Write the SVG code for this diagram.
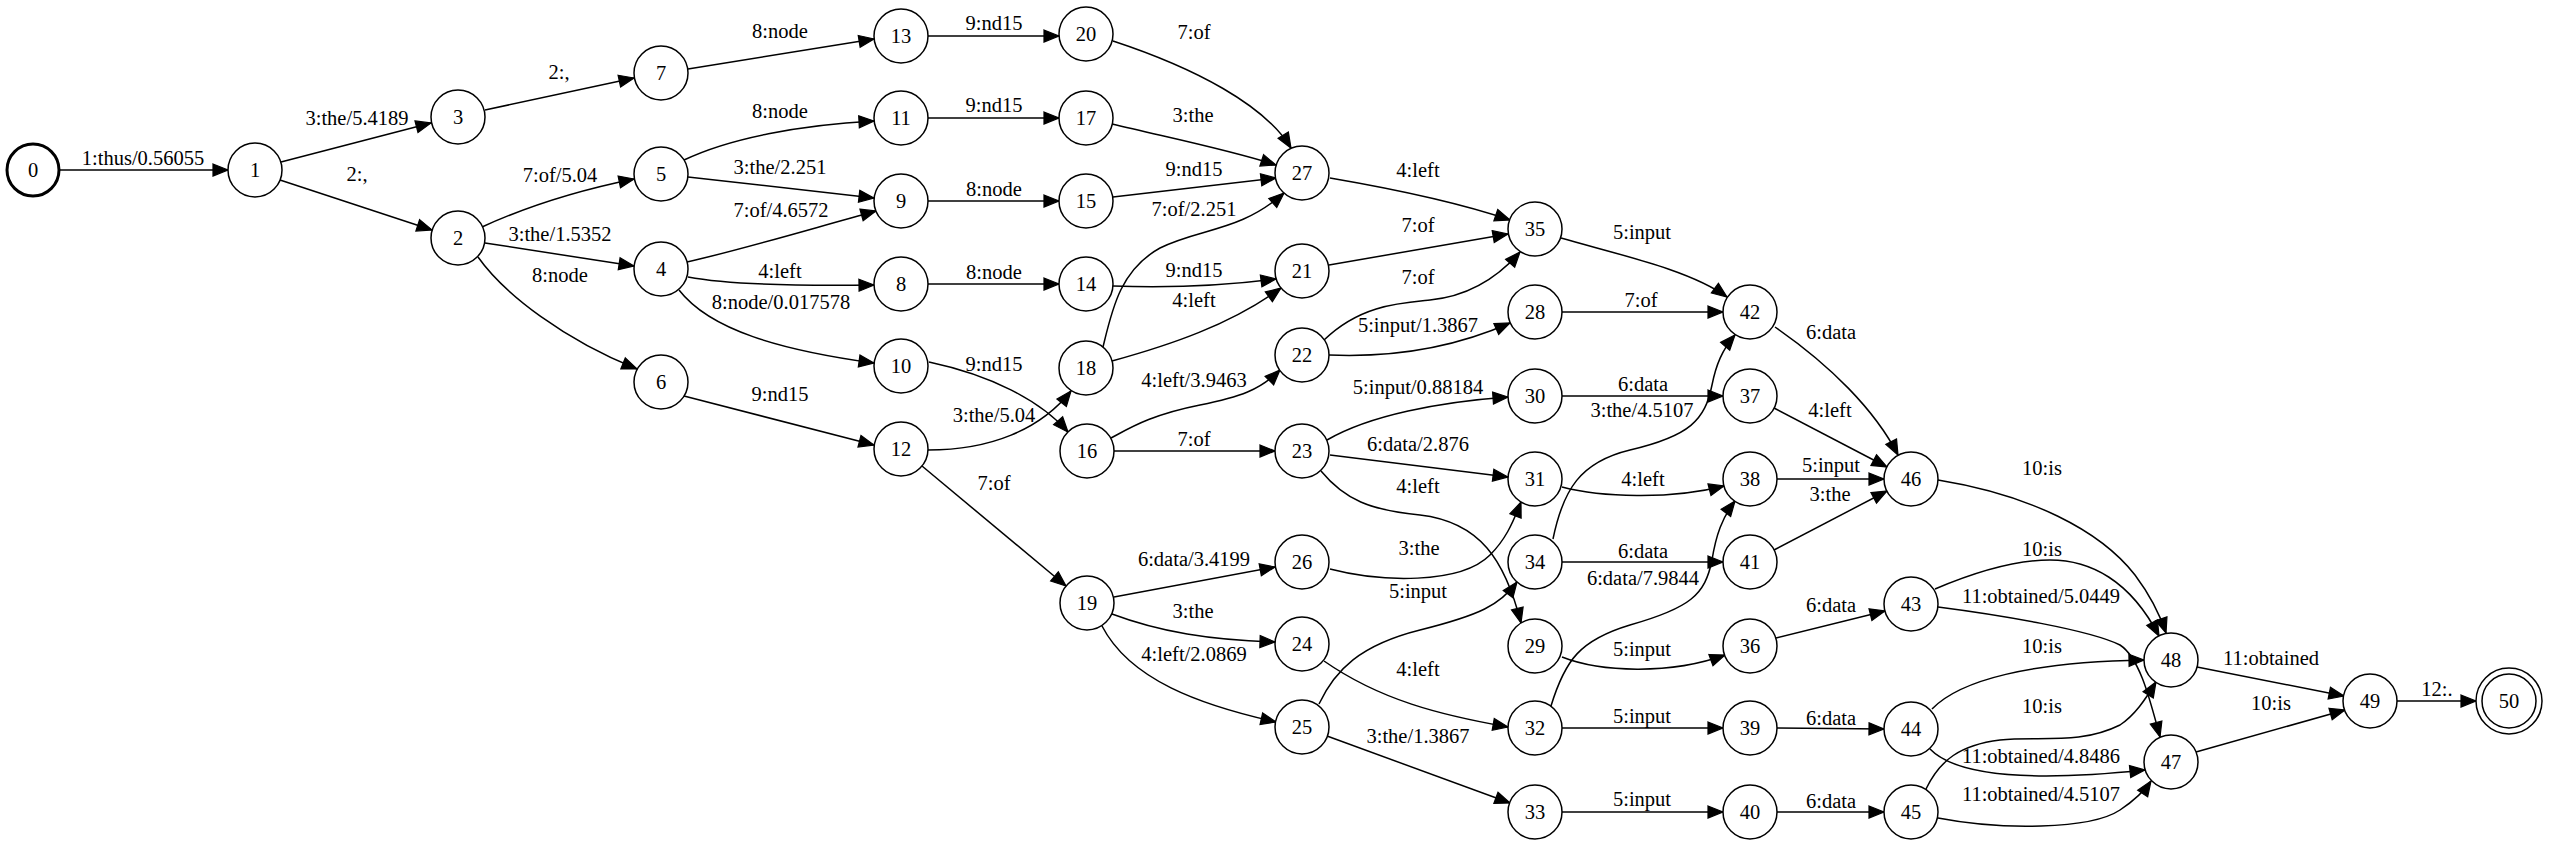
<svg xmlns="http://www.w3.org/2000/svg" width="2550" height="847" viewBox="0 0 2550 847">
<defs>
<marker id="ah" markerUnits="userSpaceOnUse" markerWidth="18" markerHeight="14" refX="15" refY="6" orient="auto" overflow="visible">
<path d="M0,0 L15,6 L0,12 z" fill="#000" stroke="#000" stroke-width="1.2" stroke-linejoin="miter"/>
</marker>
</defs>
<style>
.n circle{fill:#fff;stroke:#000;stroke-width:1.5}
.n text{font-family:"Liberation Serif","Times New Roman",serif;font-size:20.5px;text-anchor:middle;fill:#000}
#edges path{fill:none;stroke:#000;stroke-width:1.5;marker-end:url(#ah)}
#edges text{font-family:"Liberation Serif","Times New Roman",serif;font-size:20.5px;text-anchor:middle;fill:#000}
</style>
<rect width="2550" height="847" fill="#fff"/>
<g id="edges">
<g><path d="M59,170 L228,170"/><text x="143" y="165">1:thus/0.56055</text></g>
<g><path d="M281,162 L431,123"/><text x="357" y="125">3:the/5.4189</text></g>
<g><path d="M280,180 L432,230"/><text x="357" y="181">2:,</text></g>
<g><path d="M485,110 L634,78"/><text x="559" y="79">2:,</text></g>
<g><path d="M482,227 C530,205 580,190 634,179"/><text x="560" y="182">7:of/5.04</text></g>
<g><path d="M485,243 L634,266"/><text x="560" y="241">3:the/1.5352</text></g>
<g><path d="M478,257 C505,295 565,340 637,369"/><text x="560" y="282">8:node</text></g>
<g><path d="M688,69 L874,39"/><text x="780" y="38">8:node</text></g>
<g><path d="M928,36 L1059,36"/><text x="994" y="30">9:nd15</text></g>
<g><path d="M1113,41 C1195,68 1265,105 1291,148"/><text x="1194" y="39">7:of</text></g>
<g><path d="M684,160 C730,138 800,125 874,121"/><text x="780" y="118">8:node</text></g>
<g><path d="M928,118 L1059,118"/><text x="994" y="112">9:nd15</text></g>
<g><path d="M1112,124 C1170,138 1230,150 1276,165"/><text x="1193" y="122">3:the</text></g>
<g><path d="M688,177 L874,198"/><text x="780" y="174">3:the/2.251</text></g>
<g><path d="M687,262 C740,250 800,232 876,211"/><text x="781" y="217">7:of/4.6572</text></g>
<g><path d="M928,201 L1059,201"/><text x="994" y="196">8:node</text></g>
<g><path d="M1113,197 L1276,178"/><text x="1194" y="176">9:nd15</text></g>
<g><path d="M1103,347 C1112,310 1120,270 1160,248 C1200,228 1240,232 1284,193"/><text x="1194" y="216">7:of/2.251</text></g>
<g><path d="M688,277 C730,285 800,286 874,285"/><text x="780" y="278">4:left</text></g>
<g><path d="M928,284 L1059,284"/><text x="994" y="279">8:node</text></g>
<g><path d="M1113,286 C1170,288 1230,285 1276,279"/><text x="1194" y="277">9:nd15</text></g>
<g><path d="M1112,361 C1170,345 1230,325 1281,288"/><text x="1194" y="307">4:left</text></g>
<g><path d="M679,290 C710,330 780,350 874,363"/><text x="781" y="309">8:node/0.017578</text></g>
<g><path d="M929,362 C990,375 1040,400 1068,432"/><text x="994" y="371">9:nd15</text></g>
<g><path d="M684,396 L874,445"/><text x="780" y="401">9:nd15</text></g>
<g><path d="M928,450 C990,450 1040,430 1071,391"/><text x="994" y="422">3:the/5.04</text></g>
<g><path d="M1111,438 C1130,428 1150,415 1200,405 C1240,397 1260,390 1280,370"/><text x="1194" y="387">4:left/3.9463</text></g>
<g><path d="M1114,451 L1275,451"/><text x="1194" y="446">7:of</text></g>
<g><path d="M922,466 L1066,586"/><text x="994" y="490">7:of</text></g>
<g><path d="M1114,597 L1275,567"/><text x="1194" y="566">6:data/3.4199</text></g>
<g><path d="M1112,614 C1160,632 1210,640 1275,642"/><text x="1193" y="618">3:the</text></g>
<g><path d="M1102,626 C1130,680 1200,705 1276,722"/><text x="1194" y="661">4:left/2.0869</text></g>
<g><path d="M1330,178 C1400,190 1460,203 1510,220"/><text x="1418" y="177">4:left</text></g>
<g><path d="M1329,265 L1508,234"/><text x="1418" y="232">7:of</text></g>
<g><path d="M1324,340 C1360,305 1400,303 1430,300 C1470,296 1500,275 1520,252"/><text x="1418" y="284">7:of</text></g>
<g><path d="M1329,355 C1400,358 1460,345 1510,323"/><text x="1418" y="332">5:input/1.3867</text></g>
<g><path d="M1561,238 C1620,255 1690,270 1727,297"/><text x="1642" y="239">5:input</text></g>
<g><path d="M1562,312 L1723,312"/><text x="1641" y="307">7:of</text></g>
<g><path d="M1775,327 C1830,365 1875,410 1898,455"/><text x="1831" y="339">6:data</text></g>
<g><path d="M1327,440 C1370,415 1440,402 1508,397"/><text x="1418" y="394">5:input/0.88184</text></g>
<g><path d="M1562,396 L1723,396"/><text x="1643" y="391">6:data</text></g>
<g><path d="M1553,539 C1563,490 1580,462 1630,450 C1690,436 1705,420 1712,385 C1716,365 1722,350 1735,335"/><text x="1642" y="417">3:the/4.5107</text></g>
<g><path d="M1774,408 L1887,467"/><text x="1830" y="417">4:left</text></g>
<g><path d="M1330,455 L1508,477"/><text x="1418" y="451">6:data/2.876</text></g>
<g><path d="M1321,471 C1345,500 1370,510 1420,515 C1480,522 1505,560 1521,623"/><text x="1418" y="493">4:left</text></g>
<g><path d="M1562,487 C1600,497 1670,500 1724,486"/><text x="1643" y="486">4:left</text></g>
<g><path d="M1777,479 L1884,479"/><text x="1831" y="472">5:input</text></g>
<g><path d="M1774,550 L1887,491"/><text x="1830" y="501">3:the</text></g>
<g><path d="M1330,569 C1380,582 1460,585 1490,555 C1505,540 1512,525 1521,502"/><text x="1419" y="555">3:the</text></g>
<g><path d="M1562,562 L1723,562"/><text x="1643" y="558">6:data</text></g>
<g><path d="M1551,706 C1565,660 1580,640 1630,625 C1690,608 1705,595 1712,560 C1716,535 1722,518 1735,501"/><text x="1643" y="585">6:data/7.9844</text></g>
<g><path d="M1319,704 C1335,670 1360,645 1420,630 C1480,615 1500,605 1517,582"/><text x="1418" y="598">5:input</text></g>
<g><path d="M1562,657 C1600,672 1670,675 1725,655"/><text x="1642" y="656">5:input</text></g>
<g><path d="M1776,638 L1885,611"/><text x="1831" y="612">6:data</text></g>
<g><path d="M1324,661 C1380,700 1440,715 1508,727"/><text x="1418" y="676">4:left</text></g>
<g><path d="M1562,728 L1723,728"/><text x="1642" y="723">5:input</text></g>
<g><path d="M1777,728 L1884,729"/><text x="1831" y="725">6:data</text></g>
<g><path d="M1327,736 L1510,803"/><text x="1418" y="743">3:the/1.3867</text></g>
<g><path d="M1562,812 L1723,812"/><text x="1642" y="806">5:input</text></g>
<g><path d="M1777,812 L1884,812"/><text x="1831" y="808">6:data</text></g>
<g><path d="M1938,480 C2030,495 2100,530 2135,575 C2150,595 2160,615 2166,633"/><text x="2042" y="475">10:is</text></g>
<g><path d="M1935,589 C1975,572 2015,560 2050,560 C2090,560 2130,580 2159,636"/><text x="2042" y="556">10:is</text></g>
<g><path d="M1938,607 C2000,615 2090,630 2120,645 C2140,658 2150,700 2160,737"/><text x="2041" y="603">11:obtained/5.0449</text></g>
<g><path d="M1932,709 C1960,680 2030,662 2144,660"/><text x="2042" y="653">10:is</text></g>
<g><path d="M1926,789 C1940,760 1960,745 2000,740 C2040,736 2080,745 2120,725 C2135,715 2145,700 2156,682"/><text x="2042" y="713">10:is</text></g>
<g><path d="M1930,749 C1960,780 2050,780 2145,770"/><text x="2041" y="763">11:obtained/4.8486</text></g>
<g><path d="M1938,818 C2000,830 2090,830 2120,810 C2135,800 2145,790 2151,781"/><text x="2041" y="801">11:obtained/4.5107</text></g>
<g><path d="M2197,667 L2344,696"/><text x="2271" y="665">11:obtained</text></g>
<g><path d="M2196,752 L2345,710"/><text x="2271" y="710">10:is</text></g>
<g><path d="M2397,701 L2476,701"/><text x="2437" y="696">12:.</text></g>
</g>
<g id="n0" class="n"><circle cx="33" cy="170" r="26" style="stroke-width:3"/><text x="33" y="177">0</text></g>
<g id="n1" class="n"><circle cx="255" cy="170" r="27"/><text x="255" y="177">1</text></g>
<g id="n2" class="n"><circle cx="458" cy="238" r="27"/><text x="458" y="245">2</text></g>
<g id="n3" class="n"><circle cx="458" cy="117" r="27"/><text x="458" y="124">3</text></g>
<g id="n4" class="n"><circle cx="661" cy="269" r="27"/><text x="661" y="276">4</text></g>
<g id="n5" class="n"><circle cx="661" cy="174" r="27"/><text x="661" y="181">5</text></g>
<g id="n6" class="n"><circle cx="661" cy="382" r="27"/><text x="661" y="389">6</text></g>
<g id="n7" class="n"><circle cx="661" cy="73" r="27"/><text x="661" y="80">7</text></g>
<g id="n8" class="n"><circle cx="901" cy="284" r="27"/><text x="901" y="291">8</text></g>
<g id="n9" class="n"><circle cx="901" cy="201" r="27"/><text x="901" y="208">9</text></g>
<g id="n10" class="n"><circle cx="901" cy="366" r="27"/><text x="901" y="373">10</text></g>
<g id="n11" class="n"><circle cx="901" cy="118" r="27"/><text x="901" y="125">11</text></g>
<g id="n12" class="n"><circle cx="901" cy="449" r="27"/><text x="901" y="456">12</text></g>
<g id="n13" class="n"><circle cx="901" cy="36" r="27"/><text x="901" y="43">13</text></g>
<g id="n14" class="n"><circle cx="1086" cy="284" r="27"/><text x="1086" y="291">14</text></g>
<g id="n15" class="n"><circle cx="1086" cy="201" r="27"/><text x="1086" y="208">15</text></g>
<g id="n16" class="n"><circle cx="1087" cy="451" r="27"/><text x="1087" y="458">16</text></g>
<g id="n17" class="n"><circle cx="1086" cy="118" r="27"/><text x="1086" y="125">17</text></g>
<g id="n18" class="n"><circle cx="1086" cy="368" r="27"/><text x="1086" y="375">18</text></g>
<g id="n19" class="n"><circle cx="1087" cy="603" r="27"/><text x="1087" y="610">19</text></g>
<g id="n20" class="n"><circle cx="1086" cy="34" r="27"/><text x="1086" y="41">20</text></g>
<g id="n21" class="n"><circle cx="1302" cy="271" r="27"/><text x="1302" y="278">21</text></g>
<g id="n22" class="n"><circle cx="1302" cy="355" r="27"/><text x="1302" y="362">22</text></g>
<g id="n23" class="n"><circle cx="1302" cy="451" r="27"/><text x="1302" y="458">23</text></g>
<g id="n24" class="n"><circle cx="1302" cy="644" r="27"/><text x="1302" y="651">24</text></g>
<g id="n25" class="n"><circle cx="1302" cy="727" r="27"/><text x="1302" y="734">25</text></g>
<g id="n26" class="n"><circle cx="1302" cy="562" r="27"/><text x="1302" y="569">26</text></g>
<g id="n27" class="n"><circle cx="1302" cy="173" r="27"/><text x="1302" y="180">27</text></g>
<g id="n28" class="n"><circle cx="1535" cy="312" r="27"/><text x="1535" y="319">28</text></g>
<g id="n29" class="n"><circle cx="1535" cy="646" r="27"/><text x="1535" y="653">29</text></g>
<g id="n30" class="n"><circle cx="1535" cy="396" r="27"/><text x="1535" y="403">30</text></g>
<g id="n31" class="n"><circle cx="1535" cy="479" r="27"/><text x="1535" y="486">31</text></g>
<g id="n32" class="n"><circle cx="1535" cy="728" r="27"/><text x="1535" y="735">32</text></g>
<g id="n33" class="n"><circle cx="1535" cy="812" r="27"/><text x="1535" y="819">33</text></g>
<g id="n34" class="n"><circle cx="1535" cy="562" r="27"/><text x="1535" y="569">34</text></g>
<g id="n35" class="n"><circle cx="1535" cy="229" r="27"/><text x="1535" y="236">35</text></g>
<g id="n36" class="n"><circle cx="1750" cy="646" r="27"/><text x="1750" y="653">36</text></g>
<g id="n37" class="n"><circle cx="1750" cy="396" r="27"/><text x="1750" y="403">37</text></g>
<g id="n38" class="n"><circle cx="1750" cy="479" r="27"/><text x="1750" y="486">38</text></g>
<g id="n39" class="n"><circle cx="1750" cy="728" r="27"/><text x="1750" y="735">39</text></g>
<g id="n40" class="n"><circle cx="1750" cy="812" r="27"/><text x="1750" y="819">40</text></g>
<g id="n41" class="n"><circle cx="1750" cy="562" r="27"/><text x="1750" y="569">41</text></g>
<g id="n42" class="n"><circle cx="1750" cy="312" r="27"/><text x="1750" y="319">42</text></g>
<g id="n43" class="n"><circle cx="1911" cy="604" r="27"/><text x="1911" y="611">43</text></g>
<g id="n44" class="n"><circle cx="1911" cy="729" r="27"/><text x="1911" y="736">44</text></g>
<g id="n45" class="n"><circle cx="1911" cy="812" r="27"/><text x="1911" y="819">45</text></g>
<g id="n46" class="n"><circle cx="1911" cy="479" r="27"/><text x="1911" y="486">46</text></g>
<g id="n47" class="n"><circle cx="2171" cy="762" r="27"/><text x="2171" y="769">47</text></g>
<g id="n48" class="n"><circle cx="2171" cy="660" r="27"/><text x="2171" y="667">48</text></g>
<g id="n49" class="n"><circle cx="2370" cy="701" r="27"/><text x="2370" y="708">49</text></g>
<g id="n50" class="n"><circle cx="2509" cy="701" r="33"/><circle cx="2509" cy="701" r="27"/><text x="2509" y="708">50</text></g>
</svg>
